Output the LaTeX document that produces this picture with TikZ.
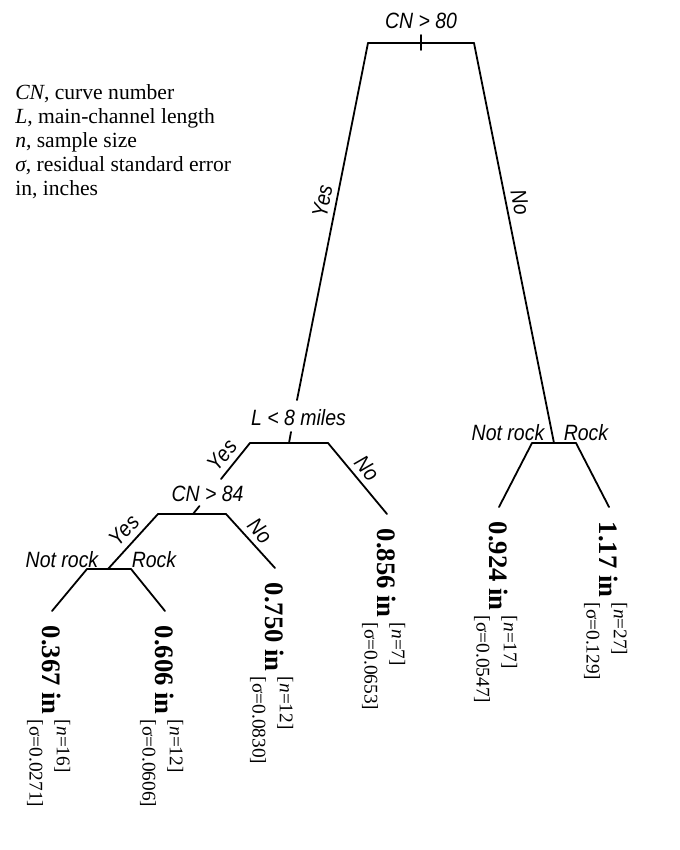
\documentclass[tikz,border=0pt]{standalone}
\usepackage{fontspec}
\setmainfont{Liberation Serif}
\newfontfamily\labfont[FakeStretch=0.88]{Liberation Sans}
\tikzset{
  lab/.style={font=\labfont\itshape\fontsize{16.6}{18}\selectfont, inner sep=1pt},
  elab/.style={lab, sloped, above=3pt},
  branch/.style={line width=1.35pt, line cap=round},
  leaf/.style={rotate=-90, anchor=west, inner xsep=11pt, inner ysep=0pt, outer sep=0pt},
  legendtext/.style={anchor=base west, align=left, inner sep=0pt, font=\fontsize{16.2}{18}\selectfont},
}
\newcommand\leafval[3]{{\fontsize{20}{21}\selectfont\bfseries #1 in}\hspace{4pt}\smash{\fontsize{14.5}{15}\selectfont\raisebox{10.5pt}{\rlap{[\textit{n}=#2]}}\raisebox{-10pt}{[σ=#3]}}}
\begin{document}
\begin{tikzpicture}[x=0.75pt,y=-0.75pt]
\useasboundingbox (0,0) rectangle (680,850);

% legend (base anchor = baseline of last line)
\node[legendtext] (legend) at (15,195) {\textit{CN}, curve number\\ \textit{L}, main-channel length\\ \textit{n}, sample size\\ \textit{σ}, residual standard error\\ in, inches};

% root split CN > 80
\node[lab] (q1) at (421,21) {CN > 80};
\coordinate (rL) at (368,43);
\coordinate (rR) at (474,43);
\coordinate (t1a) at (421,35);
\coordinate (t1b) at (421,50);
\draw[branch] (rL) -- (rR);
\draw[branch] (t1a) -- (t1b);

% split L < 8 miles
\coordinate (a2) at (297,400);
\node[lab] (q2) at (298.5,418) {L < 8 miles};
\coordinate (b2L) at (250,443);
\coordinate (b2R) at (328,443);
\coordinate (t2a) at (291,432);
\coordinate (t2b) at (289,443);
\draw[branch] (b2L) -- (b2R);
\draw[branch] (t2a) -- (t2b);

% split rock (right)
\coordinate (s3) at (554,443);
\coordinate (b3L) at (532,443);
\coordinate (b3R) at (576,443);
\draw[branch] (b3L) -- (b3R);
\node[lab] (nr3) at (508,433) {Not rock};
\node[lab] (r3) at (586,433) {Rock};

% split CN > 84
\coordinate (a4) at (221,479);
\node[lab] (q4) at (207.5,494) {CN > 84};
\coordinate (b4L) at (158,514);
\coordinate (b4R) at (226,514);
\coordinate (t4a) at (199.5,506);
\coordinate (t4b) at (193,514);
\draw[branch] (b4L) -- (b4R);
\draw[branch] (t4a) -- (t4b);

% split rock (left)
\coordinate (s5) at (108,569);
\coordinate (b5L) at (87,569);
\coordinate (b5R) at (131,569);
\draw[branch] (b5L) -- (b5R);
\node[lab] (nr5) at (62,560) {Not rock};
\node[lab] (r5) at (154,560) {Rock};

% leaves
\node[leaf] (v0) at (52,611) {\leafval{0.367}{16}{0.0271}};
\node[leaf] (v1) at (165,611) {\leafval{0.606}{12}{0.0606}};
\node[leaf] (v2) at (275,568) {\leafval{0.750}{12}{0.0830}};
\node[leaf] (v3) at (387,514) {\leafval{0.856}{7}{0.0653}};
\node[leaf] (v4) at (499,507) {\leafval{0.924}{17}{0.0547}};
\node[leaf] (v5) at (609,507) {\leafval{1.17}{27}{0.129}};

% branches
\draw[branch] (rL) -- node[elab,pos=.45] {Yes} (a2);
\draw[branch] (rR) -- node[elab,pos=.405] {No} (s3);
\draw[branch] (b2L) -- node[elab,pos=.58] {Yes} (a4);
\draw[branch] (b2R) -- node[elab,pos=.48] {No} (v3.west);
\draw[branch] (b4L) -- node[elab,pos=.47] {Yes} (s5);
\draw[branch] (b4R) -- node[elab,pos=.49] {No} (v2.west);
\draw[branch] (b5L) -- (v0.west);
\draw[branch] (b5R) -- (v1.west);
\draw[branch] (b3L) -- (v4.west);
\draw[branch] (b3R) -- (v5.west);
\end{tikzpicture}
\end{document}
